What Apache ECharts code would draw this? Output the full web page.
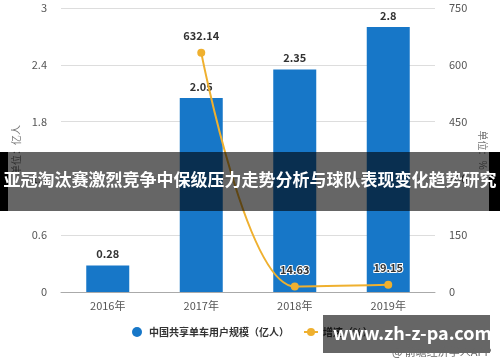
<!DOCTYPE html>
<html>
<head>
<meta charset="utf-8">
<script src="https://cdn.jsdelivr.net/npm/echarts@6/dist/echarts.min.js"></script>
<style>html,body{margin:0;padding:0;background:#fff}#c{width:500px;height:362px}</style>
</head>
<body>
<div id="c"></div>
<script>
var categories = ['2016年', '2017年', '2018年', '2019年'];
var userScale = [0.28, 2.05, 2.35, 2.8];
var growthRate = [null, 632.14, 14.63, 19.15];
var leftTicks = [0, 0.6, 1.2, 1.8, 2.4, 3];
var rightTicks = [0, 150, 300, 450, 600, 750];
var seriesNames = ['中国共享单车用户规模（亿人）', '增速（%）'];
var bannerText = '亚冠淘汰赛激烈竞争中保级压力走势分析与球队表现变化趋势研究';
var markText = 'www.zh-z-pa.com';
var sourceText = '@ 前瞻经济学人APP';

var FONT = '"Noto Sans CJK SC", "Noto Sans", sans-serif';
var chart = echarts.init(document.getElementById('c'));
chart.setOption({
  animation: false,
  textStyle: { fontFamily: FONT },
  grid: { left: 61, right: 65, top: 8, bottom: 70 },
  legend: {
    bottom: 20, left: 127, itemGap: 14, itemWidth: 14, itemHeight: 10,
    textStyle: { color: '#333', fontSize: 10, fontWeight: 'bold', fontFamily: FONT },
    data: [{ name: seriesNames[0], icon: 'circle' }, { name: seriesNames[1] }]
  },
  xAxis: {
    type: 'category', data: categories,
    axisLine: { lineStyle: { color: '#aaa' } },
    axisTick: { alignWithLabel: true, length: 4, lineStyle: { color: '#aaa' } },
    axisLabel: { color: '#555', fontSize: 11, margin: 8 }
  },
  yAxis: [{
    type: 'value', min: leftTicks[0], max: leftTicks[leftTicks.length - 1], interval: 0.6,
    name: '单位：亿人', nameLocation: 'middle', nameGap: 34, nameRotate: 90,
    nameTextStyle: { color: '#777', fontSize: 10 },
    axisLabel: { color: '#555', fontSize: 11, margin: 14 },
    axisLine: { show: false }, axisTick: { show: false },
    splitLine: { lineStyle: { color: '#ddd' } }
  }, {
    type: 'value', min: rightTicks[0], max: rightTicks[rightTicks.length - 1], interval: 150,
    name: '单位：%', nameLocation: 'middle', nameGap: 42, nameRotate: -90,
    nameTextStyle: { color: '#777', fontSize: 10 },
    axisLabel: { color: '#555', fontSize: 11, margin: 14 },
    axisLine: { show: false }, axisTick: { show: false },
    splitLine: { show: false }
  }],
  series: [{
    name: seriesNames[0], type: 'bar', data: userScale, barWidth: 43,
    itemStyle: { color: '#1777c8' },
    label: { show: true, position: 'top', color: '#333', fontWeight: 'bold', fontSize: 11, distance: 6 }
  }, {
    name: seriesNames[1], type: 'line', yAxisIndex: 1, data: growthRate,
    smooth: 0.35, symbol: 'circle', symbolSize: 8,
    lineStyle: { color: '#efb02f', width: 2 },
    itemStyle: { color: '#efb02f' },
    label: { show: true, position: 'top', color: '#333', fontWeight: 'bold', fontSize: 11, distance: 7,
      textBorderColor: '#fff', textBorderWidth: 2 }
  }],
  graphic: [
    { type: 'rect', left: 0, top: 152, shape: { width: 500, height: 59 }, style: { fill: 'rgba(0,0,0,0.6)' }, z: 100 },
    { type: 'rect', left: 0, top: 152, shape: { width: 8, height: 59 }, style: { fill: '#000' }, z: 101 },
    { type: 'rect', left: 489, top: 152, shape: { width: 11, height: 59 }, style: { fill: '#000' }, z: 101 },
    { type: 'text', left: 'center', top: 171, z: 102,
      style: { text: bannerText, fill: '#fff', font: 'bold 17px ' + FONT } },
    { type: 'rect', left: 323, top: 315, shape: { width: 167, height: 38 }, style: { fill: 'rgba(0,0,0,0.6)' }, z: 100 },
    { type: 'text', left: 333, top: 324, z: 102,
      style: { text: markText, fill: '#fff', font: 'bold 18px ' + FONT } },
    { type: 'text', left: 392, top: 346, z: 102,
      style: { text: sourceText, fill: '#666', font: '11px ' + FONT } }
  ]
});
</script>
</body>
</html>
